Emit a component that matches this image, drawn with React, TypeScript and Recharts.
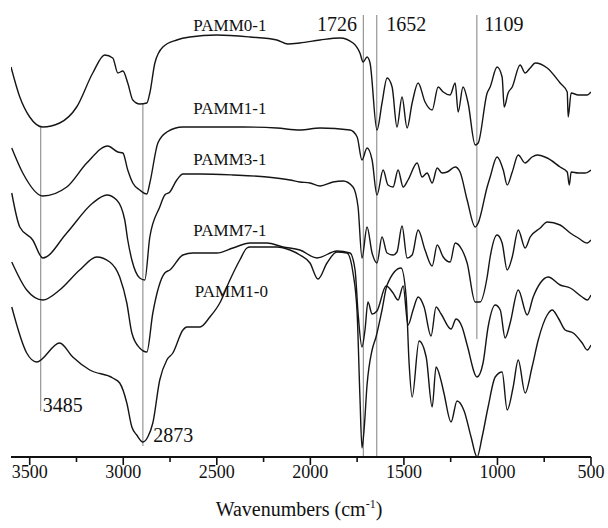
import React from 'react';
import { LineChart, Line, XAxis, YAxis, ReferenceDot } from 'recharts';

type Pt = [number, number];

// wavenumber (cm-1), relative transmittance (offset, arbitrary units)
const PAMM0_1: Pt[] = [
  [3600, 390], [3553, 360], [3500, 340], [3430, 330], [3340, 334], [3249, 350], [3163, 384], [3099, 402],
  [3056, 399], [3029, 384], [3002, 386], [2976, 374], [2949, 357], [2912, 353], [2874, 354], [2858, 364],
  [2831, 394], [2788, 410], [2714, 417], [2644, 420], [2500, 422], [2323, 420], [2179, 417], [2120, 413],
  [2056, 414], [1948, 417], [1841, 419], [1772, 414], [1735, 404], [1718, 395], [1697, 400], [1681, 394],
  [1644, 327], [1617, 354], [1590, 379], [1563, 370], [1537, 330], [1510, 360], [1483, 329], [1456, 354],
  [1424, 374], [1387, 355], [1349, 347], [1317, 370], [1290, 365], [1253, 362], [1226, 374], [1210, 345],
  [1184, 370], [1157, 354], [1119, 312], [1103, 314], [1055, 364], [1039, 370], [1002, 390], [975, 380],
  [964, 350], [943, 364], [921, 370], [879, 392], [852, 384], [825, 389], [798, 394], [734, 389],
  [665, 374], [627, 365], [622, 340], [606, 364], [568, 362], [520, 362], [500, 365],
];

const PAMM1_1: Pt[] = [
  [3596, 309], [3537, 284], [3430, 261], [3302, 270], [3195, 294], [3083, 311], [3029, 305], [3002, 304],
  [2976, 287], [2949, 274], [2912, 267], [2874, 263], [2858, 274], [2815, 314], [2767, 325], [2681, 330],
  [2500, 330], [2360, 330], [2179, 329], [2056, 327], [1948, 329], [1788, 327], [1750, 320], [1724, 297],
  [1697, 309], [1670, 297], [1644, 262], [1611, 287], [1585, 272], [1558, 270], [1531, 287], [1504, 270],
  [1478, 277], [1429, 294], [1403, 280], [1376, 284], [1349, 274], [1322, 289], [1296, 284], [1269, 285],
  [1226, 290], [1200, 285], [1162, 257], [1119, 230], [1103, 234], [1055, 270], [1039, 280], [1002, 300],
  [969, 287], [948, 272], [921, 285], [889, 302], [852, 294], [815, 300], [787, 302], [734, 299],
  [665, 290], [627, 285], [616, 272], [606, 285], [568, 284], [531, 284], [500, 287],
];

const PAMM3_1: Pt[] = [
  [3596, 264], [3553, 230], [3484, 217], [3430, 199], [3302, 224], [3163, 254], [3088, 262], [3035, 257],
  [2992, 237], [2976, 217], [2954, 197], [2912, 179], [2885, 177], [2858, 220], [2805, 250], [2778, 262],
  [2751, 265], [2714, 277], [2681, 283], [2590, 283], [2414, 282], [2232, 280], [2109, 277], [2056, 275],
  [2002, 274], [1948, 271], [1879, 275], [1825, 276], [1772, 270], [1745, 250], [1724, 199], [1697, 230],
  [1670, 204], [1644, 194], [1617, 220], [1590, 204], [1558, 202], [1537, 205], [1510, 231], [1483, 199],
  [1456, 202], [1424, 227], [1387, 207], [1349, 191], [1322, 212], [1290, 200], [1253, 195], [1226, 214],
  [1189, 207], [1162, 194], [1119, 155], [1093, 155], [1055, 180], [1039, 200], [1002, 222], [975, 214],
  [948, 187], [921, 200], [889, 227], [852, 209], [825, 220], [771, 229], [734, 235], [665, 232],
  [611, 224], [568, 219], [520, 214], [500, 217],
];

const PAMM7_1: Pt[] = [
  [3596, 195], [3516, 167], [3430, 157], [3340, 167], [3233, 187], [3142, 200], [3072, 195], [3019, 180],
  [2981, 154], [2954, 124], [2912, 109], [2874, 105], [2842, 144], [2778, 184], [2751, 187], [2681, 202],
  [2628, 204], [2500, 204], [2414, 209], [2323, 214], [2232, 214], [2146, 210], [2056, 207], [1964, 199],
  [1858, 206], [1788, 204], [1761, 187], [1745, 144], [1724, 110], [1708, 127], [1692, 155], [1670, 143],
  [1644, 146], [1595, 171], [1558, 164], [1531, 157], [1504, 171], [1478, 132], [1451, 147], [1424, 160],
  [1392, 150], [1355, 121], [1328, 150], [1301, 143], [1248, 128], [1221, 138], [1189, 130], [1162, 112],
  [1109, 80], [1077, 94], [1050, 130], [1012, 152], [985, 147], [959, 119], [932, 134], [889, 167],
  [841, 142], [809, 160], [771, 174], [729, 180], [665, 172], [611, 169], [547, 160], [520, 157], [500, 162],
];

const PAMM1_0: Pt[] = [
  [3596, 150], [3516, 104], [3463, 95], [3340, 114], [3270, 100], [3179, 87], [3056, 79], [3019, 74],
  [2981, 54], [2954, 30], [2928, 22], [2895, 15], [2869, 20], [2842, 34], [2805, 77], [2767, 97],
  [2735, 104], [2681, 127], [2660, 130], [2590, 130], [2537, 140], [2484, 154], [2430, 177], [2377, 197],
  [2339, 209], [2323, 210], [2179, 210], [2109, 207], [2056, 202], [2002, 194], [1959, 178], [1911, 194],
  [1858, 205], [1804, 204], [1772, 184], [1750, 144], [1735, 60], [1724, 9], [1713, 27], [1697, 72],
  [1670, 107], [1649, 120], [1617, 147], [1590, 172], [1515, 189], [1488, 160], [1472, 93], [1456, 60],
  [1419, 116], [1381, 100], [1349, 50], [1328, 90], [1301, 76], [1285, 63], [1248, 35], [1216, 56],
  [1178, 46], [1141, 20], [1109, 0], [1082, 20], [1050, 50], [1012, 80], [975, 85], [948, 47],
  [916, 70], [889, 97], [852, 64], [815, 90], [782, 117], [734, 142], [707, 147], [675, 139],
  [638, 127], [595, 124], [547, 114], [520, 107], [500, 112],
];

const series = [PAMM0_1, PAMM1_1, PAMM3_1, PAMM7_1, PAMM1_0];

const xTicks = [3500, 3250, 3000, 2750, 2500, 2250, 2000, 1750, 1500, 1250, 1000, 750, 500];

// assignment lines: drawn position, top and bottom value
const markerW = [3441, 2895, 1717, 1645, 1110];
const markerTop = [330, 354, 442, 442, 442];
const markerBottom = [46, 11, 0, 0, 118];

// peak labels
const peakText = ['3485', '2873', '1726', '1652', '1109'];
const peakW = [3430, 2840, 1751, 1595, 1071];
const peakV = [45, 15, 426, 426, 426];
const peakAnchor = ['start', 'start', 'end', 'start', 'start'];

// sample labels
const sampleText = ['PAMM0-1', 'PAMM1-1', 'PAMM3-1', 'PAMM7-1', 'PAMM1-0'];
const sampleW = [2430, 2430, 2430, 2430, 2422];
const sampleV = [426, 343, 292, 221, 160];

const FONT = "'Liberation Serif', 'Times New Roman', serif";

const rows = (pts: Pt[]) => pts.map(([w, v]) => ({ w, v }));

const Tick = (props: any) => {
  const { x, y, payload } = props;
  const major = payload.value % 500 === 0;
  return (
    <g>
      <line x1={x} x2={x} y1={y} y2={y + (major ? 8 : 5)} stroke="#111" strokeWidth={1.6} />
      {major && (
        <text x={x} y={y + 21} textAnchor="middle" fill="#111" style={{ fontFamily: FONT, fontSize: 18 }}>
          {payload.value}
        </text>
      )}
    </g>
  );
};

const AxisTitle = (props: any) => {
  const vb = props.viewBox || { x: 0, y: 0, width: 0, height: 0 };
  return (
    <text x={vb.x + vb.width / 2 - 2} y={vb.y + 59} textAnchor="middle" fill="#111" style={{ fontFamily: FONT, fontSize: 20 }}>
      Wavenumbers (cm
      <tspan dy={-8} style={{ fontSize: 12 }}>-1</tspan>
      <tspan dy={8}>)</tspan>
    </text>
  );
};

const makeTextShape = (text: string, size: number, anchor: string) => (p: any) => (
  <text x={p.cx} y={p.cy} textAnchor={anchor as any} fill="#111" style={{ fontFamily: FONT, fontSize: size }}>
    {text}
  </text>
);

export default function App() {
  return (
    <div style={{ position: 'absolute', left: 0, top: 0, width: 608, height: 528, background: '#fff', fontFamily: FONT }}>
      <LineChart width={608} height={528} margin={{ top: 7, right: 17, left: 11, bottom: 0 }} style={{ fontFamily: FONT }}>
        <XAxis
          type="number"
          dataKey="w"
          domain={[500, 3600]}
          reversed
          ticks={xTicks}
          interval={0}
          tick={<Tick />}
          tickLine={false}
          tickSize={0}
          tickMargin={0}
          axisLine={{ stroke: '#111', strokeWidth: 2 }}
          height={71}
          allowDataOverflow
          label={<AxisTitle />}
        />
        <YAxis type="number" hide domain={[0, 450]} allowDataOverflow />
        {markerW.map((w, i) => (
          <Line
            key={'m' + i}
            data={[{ w, v: markerTop[i] }, { w, v: markerBottom[i] }]}
            dataKey="v"
            type="linear"
            stroke="#808080"
            strokeWidth={1}
            dot={false}
            activeDot={false}
            isAnimationActive={false}
          />
        ))}
        {series.map((s, i) => (
          <Line
            key={'s' + i}
            data={rows(s)}
            dataKey="v"
            type="monotone"
            stroke="#151515"
            strokeWidth={1.4}
            dot={false}
            activeDot={false}
            isAnimationActive={false}
          />
        ))}
        {peakText.map((t, i) => (
          <ReferenceDot key={'p' + i} x={peakW[i]} y={peakV[i]} r={1} shape={makeTextShape(t, 20, peakAnchor[i])} />
        ))}
        {sampleText.map((t, i) => (
          <ReferenceDot key={'l' + i} x={sampleW[i]} y={sampleV[i]} r={1} shape={makeTextShape(t, 17, 'middle')} />
        ))}
      </LineChart>
    </div>
  );
}
